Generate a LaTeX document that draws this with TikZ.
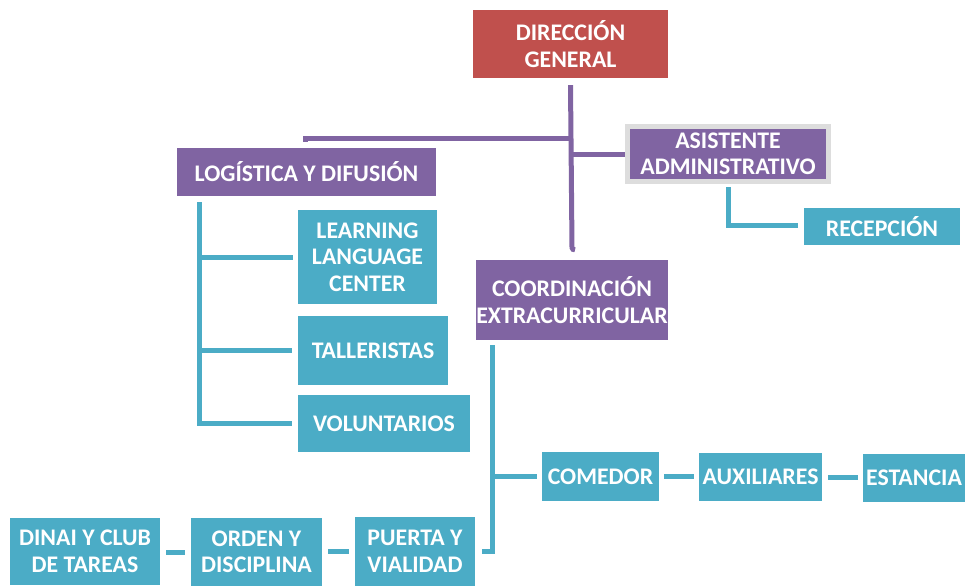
\documentclass[tikz,border=0pt]{standalone}
\usepackage{fontspec}
\setmainfont{Carlito}
\definecolor{rojo}{HTML}{C0504D}
\definecolor{morado}{HTML}{8064A2}
\definecolor{turquesa}{HTML}{4BACC6}
\definecolor{borde}{HTML}{DDDDDD}
\tikzset{
  caja/.style={fill=#1, text=white, align=center, inner sep=0pt,
    font=\bfseries\fontsize{23.8}{26.5}\selectfont},
  enlace/.style={draw=#1, line width=5pt}
}
\begin{document}
\begin{tikzpicture}[x=1pt, y=-1pt]
    \useasboundingbox (0,0) rectangle (966,586);

    % Direccion y primer nivel
    \node[caja=rojo, minimum width=195pt, minimum height=68pt] (direccion) at (570.5,44) {DIRECCIÓN\\GENERAL};
    \node[caja=morado, minimum width=259pt, minimum height=48pt] (logistica) at (306.5,172) {LOGÍSTICA Y DIFUSIÓN};
    \node[caja=morado, draw=borde, line width=5pt, minimum width=201pt, minimum height=55pt] (asistente) at (728,154) {ASISTENTE\\ADMINISTRATIVO};
    \node[caja=turquesa, minimum width=156pt, minimum height=37pt] (recepcion) at (882,226.5) {RECEPCIÓN};
    \node[caja=morado, minimum width=192pt, minimum height=80pt] (coordinacion) at (572,300) {COORDINACIÓN\\EXTRACURRICULAR};

    % Logistica
    \node[caja=turquesa, minimum width=139pt, minimum height=94pt] (learning) at (367.5,257) {LEARNING\\LANGUAGE\\CENTER};
    \node[caja=turquesa, minimum width=150pt, minimum height=69pt] (talleristas) at (373,350.5) {TALLERISTAS};
    \node[caja=turquesa, minimum width=172pt, minimum height=57pt] (voluntarios) at (384,423.5) {VOLUNTARIOS};

    % Coordinacion
    \node[caja=turquesa, minimum width=117pt, minimum height=49pt] (comedor) at (600.5,476.5) {COMEDOR};
    \node[caja=turquesa, minimum width=123pt, minimum height=48pt] (auxiliares) at (760.5,477) {AUXILIARES};
    \node[caja=turquesa, minimum width=102pt, minimum height=48pt] (estancia) at (914,478) {ESTANCIA};
    \node[caja=turquesa, minimum width=150pt, minimum height=67pt] (dinai) at (85,551.5) {DINAI Y CLUB\\DE TAREAS};
    \node[caja=turquesa, minimum width=131pt, minimum height=68pt] (orden) at (256.5,552) {ORDEN Y\\DISCIPLINA};
    \node[caja=turquesa, minimum width=120pt, minimum height=69pt] (puerta) at (415,551.5) {PUERTA Y\\VIALIDAD};

    % Lineas moradas
    \draw[enlace=morado] ([yshift=-7pt]direccion.south) -- ([yshift=12pt]coordinacion.north) to[out=-90, in=180] ([xshift=3pt, yshift=10pt]coordinacion.north);
    \draw[enlace=morado] ([xshift=-1.5pt, yshift=6pt]logistica.north) |- ([yshift=-60pt]direccion.south);
    \draw[enlace=morado] (asistente.west) -- (asistente.west -| direccion.south);

    % Lineas turquesa
    \draw[enlace=turquesa] ([yshift=-3pt]asistente.south) |- ([xshift=-6pt, yshift=1.5pt]recepcion.west);

    \coordinate (ejeL) at ([xshift=23pt, yshift=-6pt]logistica.south west);
    \draw[enlace=turquesa] (ejeL) |- ([xshift=-6pt]voluntarios.west);
    \draw[enlace=turquesa] (ejeL |- learning.west) -- ([xshift=-5pt]learning.west);
    \draw[enlace=turquesa] (ejeL |- talleristas.west) -- ([xshift=-6pt]talleristas.west);

    \coordinate (ejeC) at ([xshift=17pt, yshift=-5pt]coordinacion.south west);
    \draw[enlace=turquesa] (ejeC) |- ([xshift=7pt]puerta.east);
    \draw[enlace=turquesa] (ejeC |- comedor.west) -- ([xshift=-5pt]comedor.west);

    \draw[enlace=turquesa, shorten <=5pt, shorten >=5pt] (comedor.east) -- (comedor.east -| auxiliares.west);
    \draw[enlace=turquesa, shorten <=6pt, shorten >=5pt] (auxiliares.east) -- (auxiliares.east -| estancia.west);
    \draw[enlace=turquesa, shorten <=6pt, shorten >=6pt] (puerta.west) -- (puerta.west -| orden.east);
    \draw[enlace=turquesa, shorten <=6pt, shorten >=6pt] (orden.west) -- (orden.west -| dinai.east);
\end{tikzpicture}
\end{document}
